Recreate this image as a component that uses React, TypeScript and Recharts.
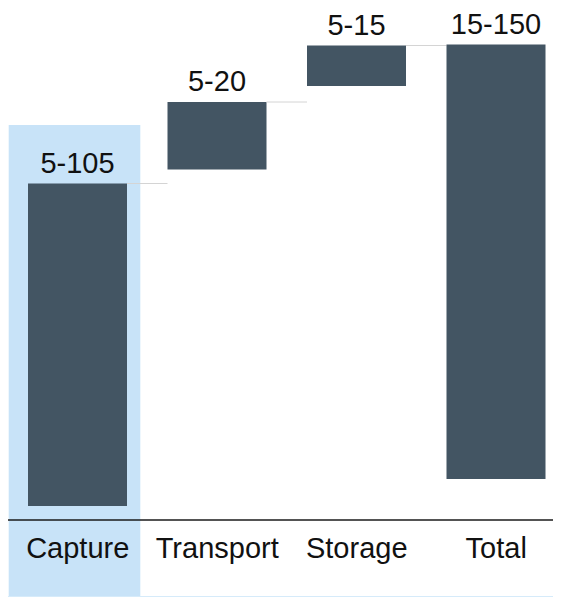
import { BarChart, Bar, XAxis, YAxis, ReferenceArea, LabelList } from 'recharts'

// cost build-up: each step floats between its low and high level
const categories = ['Capture', 'Transport', 'Storage', 'Total']
const rangeLabels = ['5-105', '5-20', '5-15', '15-150']
const barLow = [2.8, 70.1, 86.8, 8.2]
const barHigh = [67.3, 83.6, 94.9, 95.1]

const highlightCategory = 'Capture'
const highlightRange = [-15.2, 79]

const data = categories.map((name, i) => ({
  name,
  span: [barLow[i], barHigh[i]],
  label: rangeLabels[i],
}))

const CHART_W = 558
const CHART_H = 588
const STEP = CHART_W / categories.length
const FONT = '"Liberation Sans", Arial, sans-serif'

// bar rect plus the thin connector running to the next bar's left edge
// eslint-disable-next-line @typescript-eslint/no-explicit-any
function StepBar(props: any) {
  const { x, y, width, height, index, fill } = props
  const top = height < 0 ? y + height : y
  const h = Math.abs(height)
  return (
    <g>
      <rect x={x} y={top} width={width} height={h} fill={fill} />
      {index < categories.length - 1 && (
        <line x1={x + width} x2={x + STEP} y1={top} y2={top} stroke="#d4d4d4" strokeWidth={1} />
      )}
    </g>
  )
}

// eslint-disable-next-line @typescript-eslint/no-explicit-any
function Highlight(props: any) {
  const { x, y, width, height } = props
  return <rect x={x + 0.7} y={y} width={width - 7.9} height={height} fill="#c8e3f8" />
}

export default function App() {
  return (
    <div
      style={{
        width: 553,
        height: CHART_H,
        overflow: 'hidden',
        borderBottom: '1px solid #d6ebfa',
        fontFamily: FONT,
      }}
    >
      <BarChart
        width={CHART_W}
        height={CHART_H}
        data={data}
        margin={{ top: 12, right: 0, left: 0, bottom: 0 }}
      >
        <ReferenceArea
          x1={highlightCategory}
          x2={highlightCategory}
          y1={highlightRange[0]}
          y2={highlightRange[1]}
          ifOverflow="visible"
          shape={Highlight}
        />
        <XAxis
          dataKey="name"
          height={76}
          axisLine={{ stroke: '#1a1a1a', strokeWidth: 1.4 }}
          tickLine={false}
          tickSize={0}
          tickMargin={17}
          interval={0}
          tick={{ fontSize: 29, fill: '#111', fontFamily: FONT }}
        />
        <YAxis hide domain={[0, 100]} />
        <Bar
          dataKey="span"
          fill="#435563"
          barSize={99}
          shape={StepBar}
          isAnimationActive={false}
        >
          <LabelList
            dataKey="label"
            position="top"
            offset={11}
            style={{ fontSize: 29, fill: '#111', fontFamily: FONT }}
          />
        </Bar>
      </BarChart>
    </div>
  )
}
